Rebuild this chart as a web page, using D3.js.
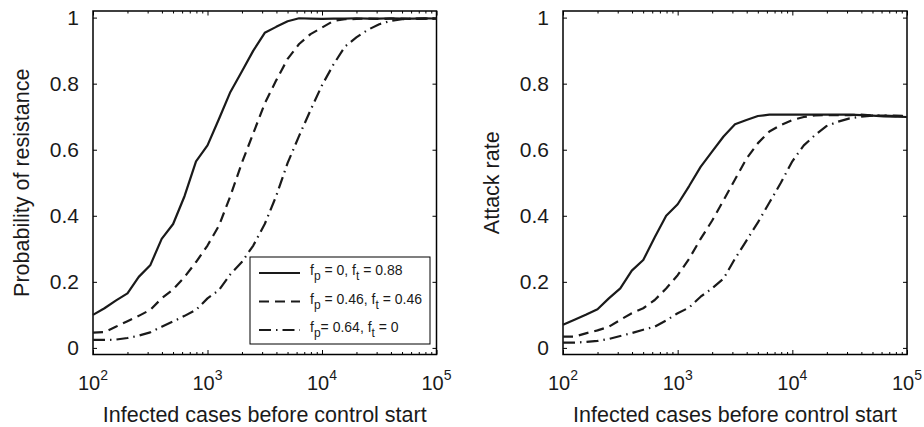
<!DOCTYPE html>
<html lang="en">
<head>
<meta charset="UTF-8">
<title>Resistance and attack rate vs control start</title>
<script src="https://d3js.org/d3.v7.min.js"></script>
<style>
    body { margin: 0; background: #fff; }
    svg { font-family: "Liberation Sans", Arial, sans-serif; }
    .box { fill: none; stroke: #000; stroke-width: 1.5; }
    .tick line { stroke: #000; stroke-width: 1; }
    .curve { fill: none; stroke: #1a1a1a; stroke-width: 2.2; stroke-linejoin: round; }
</style>
</head>
<body>
<svg id="chart" width="924" height="427"></svg>
<script>
// cases before control start (x grid)
const cases = [100, 126, 158, 200, 251, 316, 398, 501, 631, 794,
    1000, 1259, 1585, 1995, 2512, 3162, 3981, 5012, 6310, 7943,
    10000, 12589, 15849, 19953, 25119, 31623, 39811, 50119, 63096, 79433, 100000];

// probability of resistance
const resistA = [0.10, 0.12, 0.143, 0.165, 0.215, 0.25, 0.33, 0.375, 0.46, 0.565,
    0.613, 0.693, 0.775, 0.837, 0.90, 0.954, 0.972, 0.989, 0.998, 0.997,
    0.996, 0.997, 0.997, 0.998, 0.997, 0.997, 0.998, 0.997, 0.997, 0.998, 0.997];
const resistB = [0.046, 0.048, 0.064, 0.081, 0.097, 0.115, 0.15, 0.177, 0.215, 0.26,
    0.31, 0.37, 0.46, 0.56, 0.65, 0.74, 0.81, 0.875, 0.92, 0.95,
    0.97, 0.99, 0.995, 0.996, 0.997, 0.996, 0.997, 0.997, 0.996, 0.997, 0.997];
const resistC = [0.024, 0.024, 0.025, 0.03, 0.037, 0.047, 0.064, 0.08, 0.097, 0.115,
    0.15, 0.175, 0.223, 0.26, 0.31, 0.375, 0.46, 0.56, 0.642, 0.72,
    0.795, 0.858, 0.912, 0.94, 0.963, 0.98, 0.99, 0.995, 0.997, 0.997, 0.997];

// attack rate
const attackA = [0.07, 0.085, 0.10, 0.117, 0.15, 0.18, 0.234, 0.266, 0.335, 0.40,
    0.435, 0.49, 0.548, 0.594, 0.64, 0.677, 0.69, 0.702, 0.706, 0.706,
    0.706, 0.706, 0.706, 0.706, 0.706, 0.706, 0.705, 0.703, 0.701, 0.70, 0.699];
const attackB = [0.034, 0.034, 0.044, 0.053, 0.064, 0.085, 0.105, 0.12, 0.145, 0.18,
    0.22, 0.27, 0.33, 0.385, 0.447, 0.51, 0.573, 0.62, 0.655, 0.675,
    0.69, 0.699, 0.704, 0.705, 0.705, 0.705, 0.706, 0.704, 0.703, 0.703, 0.702];
const attackC = [0.016, 0.016, 0.018, 0.021, 0.027, 0.036, 0.045, 0.055, 0.064, 0.083,
    0.105, 0.122, 0.155, 0.18, 0.21, 0.27, 0.325, 0.38, 0.44, 0.50,
    0.565, 0.613, 0.645, 0.672, 0.685, 0.695, 0.70, 0.703, 0.703, 0.702, 0.702];

const yTicks = [0, 0.2, 0.4, 0.6, 0.8, 1];
const xMajor = [100, 1000, 10000, 100000];
const legendLabels = [
    [["f", ""], ["p", "sub"], [" = 0, f", ""], ["t", "sub"], [" = 0.88", ""]],
    [["f", ""], ["p", "sub"], [" = 0.46, f", ""], ["t", "sub"], [" = 0.46", ""]],
    [["f", ""], ["p", "sub"], ["= 0.64, f", ""], ["t", "sub"], [" = 0", ""]]
];

const styles = [
    {dash: null},
    {dash: "10,6"},
    {dash: "12,5,1.5,5"}
];

const svg = d3.select("#chart");
const plotTop = 11, plotBottom = 354.5;

function drawPanel(left, right, series, yLabel, withLegend) {
    const x = d3.scaleLog().domain([100, 100000]).range([left, right]);
    const y = d3.scaleLinear().domain([-0.02, 1.02]).range([plotBottom, plotTop]);

    const minor = [];
    for (let d = 100; d < 100000; d *= 10) {
        for (let m = 2; m <= 9; m++) minor.push(d * m);
    }

    const g = svg.append("g");

    // inward ticks on all four sides
    g.append("g").attr("transform", `translate(0,${plotBottom})`)
        .call(d3.axisBottom(x).tickValues(minor).tickSize(-2.5).tickFormat(""))
        .call(a => a.select(".domain").remove());
    g.append("g").attr("transform", `translate(0,${plotBottom})`)
        .call(d3.axisBottom(x).tickValues(xMajor).tickSize(-4.5).tickFormat(""))
        .call(a => a.select(".domain").remove());
    g.append("g").attr("transform", `translate(0,${plotTop})`)
        .call(d3.axisTop(x).tickValues(minor).tickSize(-2.5).tickFormat(""))
        .call(a => a.select(".domain").remove());
    g.append("g").attr("transform", `translate(0,${plotTop})`)
        .call(d3.axisTop(x).tickValues(xMajor).tickSize(-4.5).tickFormat(""))
        .call(a => a.select(".domain").remove());

    g.append("g").attr("transform", `translate(${left},0)`)
        .call(d3.axisLeft(y).tickValues(yTicks).tickSize(-4).tickPadding(14)
            .tickFormat(d => d3.format("~g")(d)))
        .call(a => a.select(".domain").remove())
        .selectAll("text")
        .attr("font-size", 21).attr("fill", "#1a1a1a");
    g.append("g").attr("transform", `translate(${right},0)`)
        .call(d3.axisRight(y).tickValues(yTicks).tickSize(-4).tickFormat(""))
        .call(a => a.select(".domain").remove());

    // x tick labels 10^n
    xMajor.forEach(v => {
        const t = g.append("text")
            .attr("x", x(v)).attr("y", 390)
            .attr("text-anchor", "middle")
            .attr("font-size", 20).attr("fill", "#1a1a1a")
            .text("10");
        t.append("tspan").attr("dy", -10).attr("font-size", 14)
            .text(String(Math.round(Math.log10(v))));
    });

    g.append("rect").attr("class", "box")
        .attr("x", left).attr("y", plotTop)
        .attr("width", right - left).attr("height", plotBottom - plotTop);

    // curves
    const line = d3.line()
        .x((d, i) => x(cases[i]))
        .y(d => y(d));
    series.forEach((s, i) => {
        g.append("path").attr("class", "curve")
            .attr("d", line(s))
            .attr("stroke-dasharray", styles[i].dash);
    });

    // axis labels
    g.append("text")
        .attr("x", (left + right) / 2).attr("y", 421.5)
        .attr("text-anchor", "middle")
        .attr("font-size", 21.5).attr("fill", "#1a1a1a")
        .text("Infected cases before control start");
    g.append("text")
        .attr("transform", `translate(${left - 64.5},${(plotTop + plotBottom) / 2}) rotate(-90)`)
        .attr("text-anchor", "middle")
        .attr("font-size", 21.5).attr("fill", "#1a1a1a")
        .text(yLabel);

    if (withLegend) {
        const lg = g.append("g");
        lg.append("rect")
            .attr("x", 250).attr("y", 257).attr("width", 180).attr("height", 87)
            .attr("fill", "#fff").attr("stroke", "#000").attr("stroke-width", 1);
        const rowY = [273, 301.5, 330];
        legendLabels.forEach((parts, i) => {
            lg.append("line").attr("class", "curve")
                .attr("x1", 259).attr("x2", 300)
                .attr("y1", rowY[i]).attr("y2", rowY[i])
                .attr("stroke-dasharray", styles[i].dash);
            const t = lg.append("text")
                .attr("x", 310).attr("y", rowY[i] + 2)
                .attr("font-size", 14).attr("fill", "#1a1a1a");
            let shifted = false;
            parts.forEach(([str, kind]) => {
                const sp = t.append("tspan").text(str);
                if (kind === "sub") {
                    sp.attr("dy", 5).attr("font-size", 12);
                    shifted = true;
                } else if (shifted) {
                    sp.attr("dy", -5);
                    shifted = false;
                }
            });
        });
    }
}

drawPanel(93, 436.5, [resistA, resistB, resistC], "Probability of resistance", true);
drawPanel(563, 907, [attackA, attackB, attackC], "Attack rate", false);
</script>
</body>
</html>
